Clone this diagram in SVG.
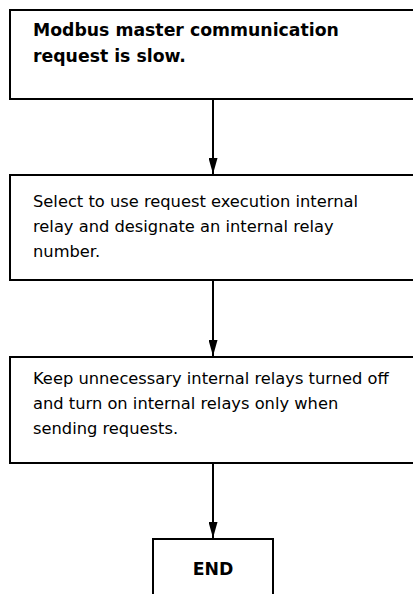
<svg xmlns="http://www.w3.org/2000/svg" width="413" height="594" viewBox="0 0 413 594">
<style>
.box{fill:#fff;stroke:#000;stroke-width:2}
.t{font-family:"DejaVu Sans",Verdana,sans-serif;font-size:16.3px;fill:#000}
.b{font-family:"DejaVu Sans",Verdana,sans-serif;font-size:17.3px;font-weight:bold;fill:#000}
.c{stroke:#000;stroke-width:2;fill:none}
</style>
<defs>
<marker id="ah" markerWidth="16" markerHeight="9" refX="16" refY="4.5" orient="auto" markerUnits="userSpaceOnUse" viewBox="0 0 16 9">
<path d="M0,0 L16,4.5 L0,9 Z" fill="#000"/>
</marker>
</defs>
<rect width="413" height="594" fill="#fff"/>
<g id="n1"><rect class="box" x="10" y="10" width="420" height="89"/>
<text class="b" x="33" y="36">Modbus master communication</text>
<text class="b" x="33" y="62">request is slow.</text></g>
<g id="n2"><rect class="box" x="10" y="175" width="420" height="105"/>
<text class="t" x="33" y="207">Select to use request execution internal</text>
<text class="t" x="33" y="232">relay and designate an internal relay</text>
<text class="t" x="33" y="257">number.</text></g>
<g id="n3"><rect class="box" x="10" y="357" width="420" height="106"/>
<text class="t" x="33" y="384">Keep unnecessary internal relays turned off</text>
<text class="t" x="33" y="409">and turn on internal relays only when</text>
<text class="t" x="33" y="434">sending requests.</text></g>
<g id="n4"><rect class="box" x="153" y="539" width="120" height="70"/>
<text class="b" x="213" y="575" text-anchor="middle">END</text></g>
<g id="connectors">
<line class="c" x1="213" y1="99" x2="213" y2="174" marker-end="url(#ah)"/>
<line class="c" x1="213" y1="280" x2="213" y2="356" marker-end="url(#ah)"/>
<line class="c" x1="213" y1="463" x2="213" y2="538" marker-end="url(#ah)"/>
</g>
</svg>
